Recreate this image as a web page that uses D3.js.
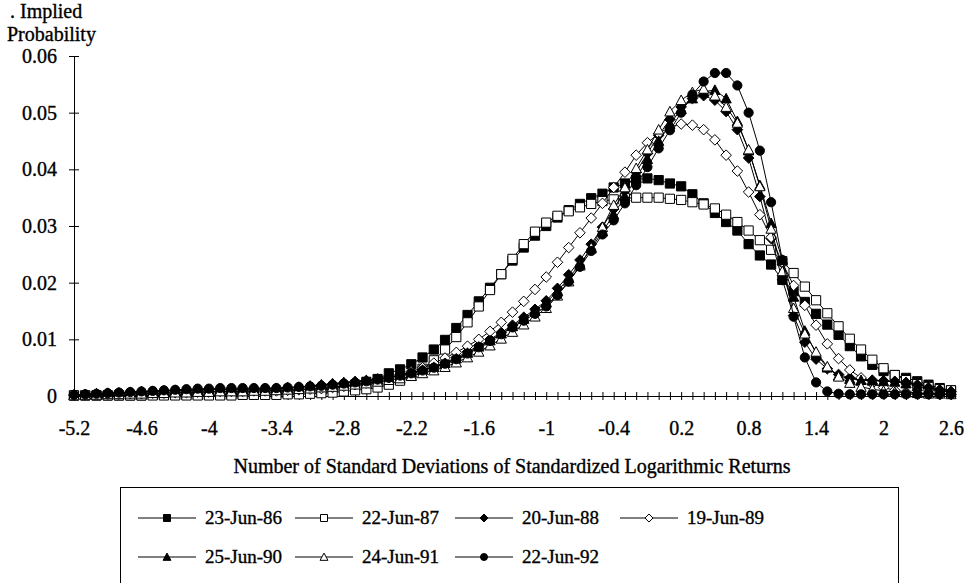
<!DOCTYPE html>
<html>
<head>
<meta charset="utf-8">
<script src="https://cdn.jsdelivr.net/npm/d3@7"></script>
<style>
  body { margin: 0; background: #fff; }
  text { font-family: "Liberation Serif", "Times New Roman", serif; fill: #000;
         stroke: #000; stroke-width: 0.35px; }
</style>
</head>
<body>
<script>
// categories: standard deviations, one point every 0.1
var sdSteps = [-5.2, -5.1, -5.0, -4.9, -4.8, -4.7, -4.6, -4.5, -4.4, -4.3,
    -4.2, -4.1, -4.0, -3.9, -3.8, -3.7, -3.6, -3.5, -3.4, -3.3, -3.2, -3.1,
    -3.0, -2.9, -2.8, -2.7, -2.6, -2.5, -2.4, -2.3, -2.2, -2.1, -2.0, -1.9,
    -1.8, -1.7, -1.6, -1.5, -1.4, -1.3, -1.2, -1.1, -1.0, -0.9, -0.8, -0.7,
    -0.6, -0.5, -0.4, -0.3, -0.2, -0.1, 0.0, 0.1, 0.2, 0.3, 0.4, 0.5, 0.6,
    0.7, 0.8, 0.9, 1.0, 1.1, 1.2, 1.3, 1.4, 1.5, 1.6, 1.7, 1.8, 1.9, 2.0,
    2.1, 2.2, 2.3, 2.4, 2.5, 2.6];

var xTickLabels = [-5.2, -4.6, -4, -3.4, -2.8, -2.2, -1.6, -1, -0.4, 0.2,
    0.8, 1.4, 2, 2.6];
var yTickValues = [0, 0.01, 0.02, 0.03, 0.04, 0.05, 0.06];

var seriesNames = ["23-Jun-86", "22-Jun-87", "20-Jun-88", "19-Jun-89",
    "25-Jun-90", "24-Jun-91", "22-Jun-92"];

var jun86 = [0.0001, 0.0001, 0.0001, 0.0001, 0.0001, 0.0001, 0.0001, 0.0002, 0.0002, 0.0002,
    0.0002, 0.0002, 0.0002, 0.0002, 0.0003, 0.0003, 0.0003, 0.0003, 0.0004, 0.0005, 0.0006, 0.0008,
    0.001, 0.0013, 0.0016, 0.002, 0.0025, 0.003, 0.004, 0.0047, 0.0056, 0.0068, 0.0082, 0.0099, 0.012, 0.0143, 0.0167, 0.0191, 0.0215, 0.0239, 0.0262, 0.0283,
    0.03, 0.0315, 0.0328, 0.0339, 0.0349, 0.0357, 0.0368, 0.0375, 0.0382, 0.0384, 0.0381, 0.0375, 0.037, 0.0356, 0.034, 0.0323, 0.0307, 0.0292, 0.0268, 0.0248,
    0.0232, 0.0205, 0.0185, 0.0166, 0.0145, 0.0126, 0.0108, 0.0088, 0.007, 0.0055, 0.0044, 0.0037, 0.0032, 0.0026, 0.002, 0.0014, 0.001];

var jun87 = [0.0001, 0.0001, 0.0001, 0.0001, 0.0001, 0.0001, 0.0001, 0.0001, 0.0001, 0.0001,
    0.0001, 0.0001, 0.0001, 0.0001, 0.0001, 0.0002, 0.0002, 0.0002, 0.0002, 0.0003, 0.0003, 0.0004,
    0.0005, 0.0006, 0.0008, 0.001, 0.0012, 0.0015, 0.002, 0.0027, 0.0036, 0.0048, 0.0063, 0.0082, 0.0104, 0.013, 0.0158, 0.0187, 0.0215, 0.0242, 0.0268, 0.029,
    0.0306, 0.0318, 0.0326, 0.0333, 0.0339, 0.0344, 0.0347, 0.0349, 0.035, 0.035, 0.035, 0.0348, 0.0346, 0.0342, 0.0338, 0.0331, 0.032, 0.0307, 0.0292, 0.0275,
    0.0258, 0.0238, 0.0217, 0.0193, 0.0169, 0.0146, 0.0123, 0.0101, 0.0082, 0.0064, 0.0049, 0.0037, 0.0028, 0.0021, 0.0016, 0.0012, 0.001];

var jun88 = [0.0002, 0.0003, 0.0004, 0.0005, 0.0005, 0.0006, 0.0007, 0.0008, 0.0009, 0.0009,
    0.001, 0.001, 0.0011, 0.0011, 0.0011, 0.0012, 0.0012, 0.0012, 0.0013, 0.0014, 0.0015, 0.0017,
    0.0019, 0.0021, 0.0023, 0.0025, 0.0027, 0.003, 0.0033, 0.0037, 0.0041, 0.0046, 0.0052, 0.0059, 0.0068, 0.0078, 0.0089, 0.01, 0.0112, 0.0125, 0.0139, 0.0153,
    0.0168, 0.019, 0.0214, 0.024, 0.0268, 0.0298, 0.033, 0.0362, 0.0395, 0.0428, 0.046, 0.0488, 0.051, 0.0525, 0.053, 0.0522, 0.0502, 0.047, 0.042, 0.0352,
    0.0278, 0.0205, 0.0142, 0.0095, 0.0065, 0.0048, 0.0038, 0.0032, 0.003, 0.0028, 0.0027, 0.0026, 0.0024, 0.002, 0.0015, 0.0011, 0.0008];

var jun89 = [0.0001, 0.0002, 0.0002, 0.0003, 0.0003, 0.0004, 0.0004, 0.0005, 0.0005, 0.0006,
    0.0006, 0.0007, 0.0007, 0.0008, 0.0008, 0.0008, 0.0009, 0.0009, 0.0009, 0.001, 0.0011, 0.0012,
    0.0013, 0.0015, 0.0017, 0.002, 0.0023, 0.0027, 0.0032, 0.0037, 0.0043, 0.005, 0.0058, 0.0067, 0.0077, 0.0088, 0.01, 0.0114, 0.013, 0.0148, 0.0167, 0.0188,
    0.021, 0.0236, 0.0262, 0.0288, 0.0314, 0.034, 0.0368, 0.0395, 0.0425, 0.0447, 0.0463, 0.0475, 0.048, 0.0478, 0.047, 0.0452, 0.0425, 0.0397, 0.036, 0.032,
    0.028, 0.0235, 0.0195, 0.016, 0.0125, 0.0092, 0.0066, 0.0046, 0.0032, 0.0022, 0.0015, 0.001, 0.0007, 0.0005, 0.0004, 0.0003, 0.0003];

var jun90 = [0.0002, 0.0003, 0.0004, 0.0005, 0.0006, 0.0007, 0.0008, 0.0008, 0.0009, 0.001,
    0.001, 0.0011, 0.0011, 0.0012, 0.0012, 0.0012, 0.0013, 0.0013, 0.0014, 0.0015, 0.0016, 0.0018,
    0.002, 0.0022, 0.0024, 0.0026, 0.0028, 0.003, 0.0033, 0.0037, 0.0041, 0.0046, 0.0051, 0.0058, 0.0066, 0.0076, 0.0087, 0.0098, 0.011, 0.0123, 0.0136, 0.015,
    0.0165, 0.0185, 0.0208, 0.0233, 0.026, 0.029, 0.032, 0.0352, 0.0385, 0.0418, 0.045, 0.048, 0.0506, 0.0525, 0.0537, 0.054, 0.0525, 0.0485, 0.0433, 0.0372,
    0.0305, 0.024, 0.0175, 0.0115, 0.0075, 0.005, 0.0036, 0.003, 0.0028, 0.0027, 0.0026, 0.0025, 0.0022, 0.0017, 0.0012, 0.0009, 0.0007];

var jun91 = [0.0001, 0.0002, 0.0002, 0.0003, 0.0003, 0.0004, 0.0004, 0.0005, 0.0005, 0.0006,
    0.0006, 0.0007, 0.0007, 0.0008, 0.0008, 0.0008, 0.0009, 0.0009, 0.001, 0.0011, 0.0012, 0.0013,
    0.0015, 0.0016, 0.0018, 0.002, 0.0022, 0.0025, 0.0028, 0.0031, 0.0035, 0.004, 0.0045, 0.0051, 0.0059, 0.0068, 0.0078, 0.0089, 0.0101, 0.0113, 0.0126, 0.014,
    0.0155, 0.0177, 0.0202, 0.023, 0.0262, 0.0298, 0.0337, 0.0368, 0.0402, 0.0435, 0.047, 0.0502, 0.0522, 0.0536, 0.0542, 0.053, 0.051, 0.0482, 0.0435, 0.037,
    0.0295, 0.022, 0.0155, 0.011, 0.0078, 0.0052, 0.0034, 0.0023, 0.0016, 0.0012, 0.0009, 0.0007, 0.0006, 0.0005, 0.0004, 0.0004, 0.0003];

var jun92 = [0.0002, 0.0003, 0.0004, 0.0005, 0.0006, 0.0007, 0.0008, 0.0009, 0.001, 0.0011,
    0.0012, 0.0013, 0.0013, 0.0014, 0.0014, 0.0014, 0.0014, 0.0014, 0.0014, 0.0015, 0.0016, 0.0017,
    0.0018, 0.002, 0.0022, 0.0024, 0.0026, 0.0029, 0.0032, 0.0036, 0.004, 0.0045, 0.005, 0.0057, 0.0065, 0.0075, 0.0086, 0.0097, 0.0109, 0.0121, 0.0133, 0.0145,
    0.0158, 0.0178, 0.0202, 0.0228, 0.0256, 0.0285, 0.031, 0.034, 0.0372, 0.0404, 0.0437, 0.0469, 0.05, 0.0532, 0.0555, 0.057, 0.057, 0.0548, 0.05, 0.0433,
    0.0342, 0.024, 0.014, 0.0068, 0.0024, 0.0008, 0.0004, 0.0003, 0.0003, 0.0003, 0.0003, 0.0003, 0.0003, 0.0003, 0.0003, 0.0003, 0.0003];

var seriesValues = [jun86, jun87, jun88, jun89, jun90, jun91, jun92];
// marker for each series: shape + filled or hollow
var markerShapes = ["square", "square", "diamond", "diamond", "triangle", "triangle", "circle"];
var markerFilled = [true, false, true, false, true, false, true];

var width = 974, height = 583;

var svg = d3.select("body").append("svg")
    .attr("width", width)
    .attr("height", height);

var x = d3.scaleLinear().domain([-5.2, 2.6]).range([74, 951]);
var y = d3.scaleLinear().domain([0, 0.06]).range([396, 56]);

// path for a marker of radius r centred on 0,0
function markerPath(shape, r) {
    if (shape == "square") {
        return "M" + (-r) + "," + (-r) + "H" + r + "V" + r + "H" + (-r) + "Z";
    } else if (shape == "diamond") {
        var d = r * 1.15;
        return "M0," + (-d) + "L" + d + ",0L0," + d + "L" + (-d) + ",0Z";
    } else if (shape == "triangle") {
        var t = r * 1.12;
        return "M0," + (-t) + "L" + t + "," + (t * 0.85) + "L" + (-t) + "," + (t * 0.85) + "Z";
    } else {
        return "M" + r + ",0A" + r + "," + r + " 0 1,1 " + (-r) + ",0A" + r + "," + r + " 0 1,1 " + r + ",0Z";
    }
}

// y axis, ticks cross the axis line
var yAxis = d3.axisLeft(y)
    .tickValues(yTickValues)
    .tickSizeOuter(0)
    .tickSize(5)
    .tickPadding(12)
    .tickFormat(function(d) { return d === 0 ? "0" : d3.format(".2f")(d); });

var gY = svg.append("g")
    .attr("transform", "translate(74,0)")
    .call(yAxis);
gY.selectAll(".tick line").attr("x1", 5).attr("x2", -5);
gY.selectAll("text").style("font-size", "20px");

// x axis, a tick at every category, labels every 0.6
var xAxis = d3.axisBottom(x)
    .tickValues(sdSteps)
    .tickSizeOuter(0)
    .tickSize(4)
    .tickPadding(21)
    .tickFormat(function(d) {
        var hit = xTickLabels.find(function(t) { return Math.abs(t - d) < 1e-6; });
        return hit === undefined ? "" : String(hit);
    });

var gX = svg.append("g")
    .attr("transform", "translate(0,396)")
    .call(xAxis);
gX.selectAll(".tick line").attr("y1", -4).attr("y2", 4);
gX.selectAll("text").style("font-size", "20px");

svg.selectAll(".domain").attr("stroke", "#000");
svg.selectAll(".tick line").attr("stroke", "#000");

// axis titles
svg.append("text").text(". Implied")
    .attr("x", 10).attr("y", 18)
    .style("font-size", "20px");
svg.append("text").text("Probability")
    .attr("x", 7).attr("y", 41)
    .style("font-size", "20px");
svg.append("text").text("Number of Standard Deviations of Standardized Logarithmic Returns")
    .attr("x", 512).attr("y", 473)
    .attr("text-anchor", "middle")
    .style("font-size", "20px");

// series, drawn in order so 1992 sits on top
var line = d3.line()
    .x(function(d, i) { return x(sdSteps[i]); })
    .y(function(d) { return y(d); });

seriesValues.forEach(function(vals, s) {
    var g = svg.append("g").attr("class", "series");
    g.append("path")
        .attr("d", line(vals))
        .attr("fill", "none")
        .attr("stroke", "#000")
        .attr("stroke-width", 1);
    g.selectAll("path.mark")
        .data(vals)
        .enter()
        .append("path")
        .attr("class", "mark")
        .attr("transform", function(d, i) { return "translate(" + x(sdSteps[i]) + "," + y(d) + ")"; })
        .attr("d", markerPath(markerShapes[s], 4.6))
        .attr("fill", markerFilled[s] ? "#000" : "#fff")
        .attr("stroke", "#000")
        .attr("stroke-width", 1);
});

// legend box, its bottom edge runs past the picture
svg.append("rect")
    .attr("x", 120.5).attr("y", 487.5)
    .attr("width", 778).attr("height", 120)
    .attr("fill", "none")
    .attr("stroke", "#000");

var legendCols = [138, 295, 455, 620];
var legendRows = [518, 557];

seriesNames.forEach(function(name, s) {
    var lx = legendCols[s % 4];
    var ly = legendRows[Math.floor(s / 4)];
    svg.append("line")
        .attr("x1", lx).attr("x2", lx + 58)
        .attr("y1", ly).attr("y2", ly)
        .attr("stroke", "#000");
    svg.append("path")
        .attr("transform", "translate(" + (lx + 29) + "," + ly + ")")
        .attr("d", markerPath(markerShapes[s], 3.5))
        .attr("fill", markerFilled[s] ? "#000" : "#fff")
        .attr("stroke", "#000");
    svg.append("text").text(name)
        .attr("x", lx + 67).attr("y", ly + 6)
        .style("font-size", "19px");
});
</script>
</body>
</html>
